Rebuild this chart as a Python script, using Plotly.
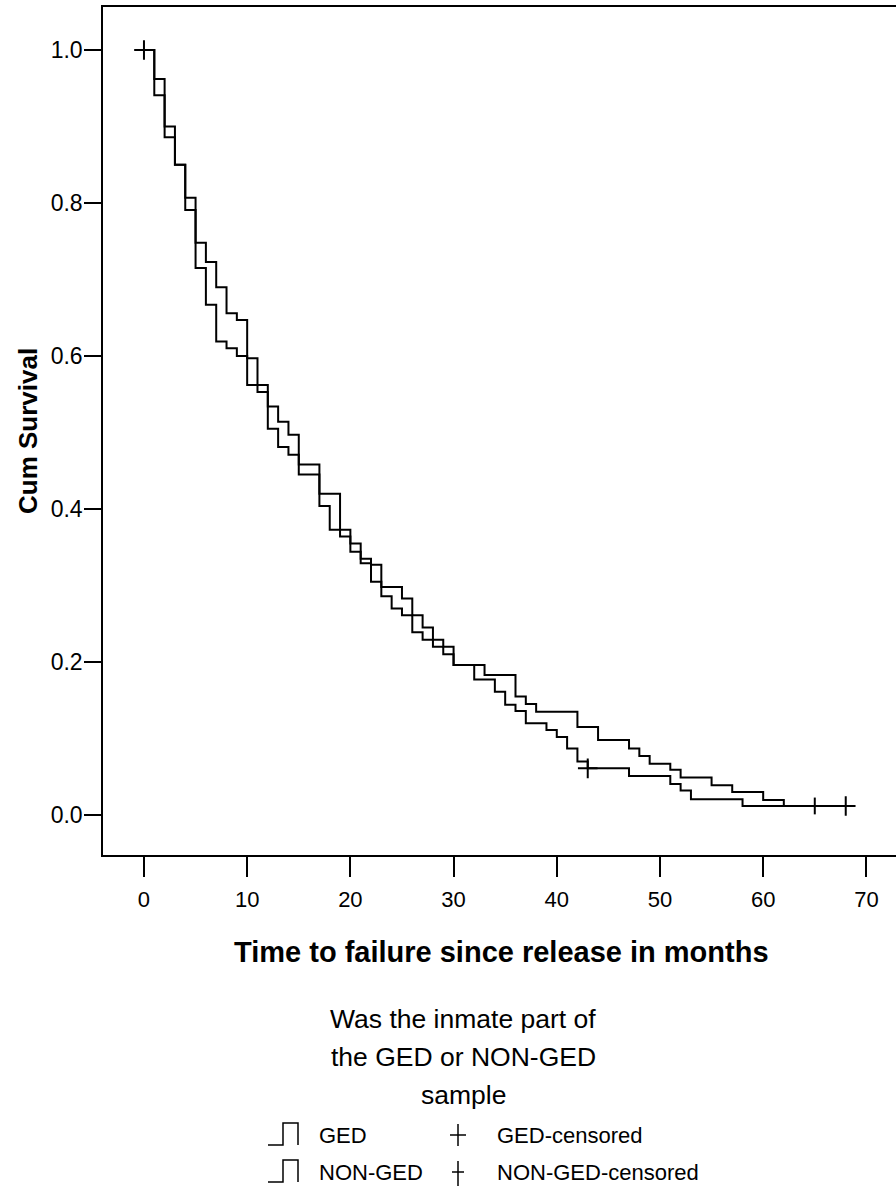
import plotly.graph_objects as go

# ---------------- data ----------------
ged_time = [0, 1, 2, 3, 4, 5, 6, 7, 8, 9, 10, 11, 12, 13, 14, 15, 17, 19, 20, 21,
            22, 23, 25, 26, 27, 28, 29, 30, 32, 34, 35, 36, 37, 39, 40, 41, 42, 43,
            47, 51, 52, 53, 58, 68]
ged_surv = [1.0, 0.962, 0.900, 0.850, 0.807, 0.748, 0.723, 0.690, 0.656, 0.647,
            0.597, 0.562, 0.534, 0.514, 0.497, 0.458, 0.420, 0.364, 0.355, 0.335,
            0.327, 0.298, 0.283, 0.261, 0.245, 0.229, 0.220, 0.196, 0.177, 0.161,
            0.144, 0.136, 0.120, 0.111, 0.102, 0.087, 0.070, 0.061, 0.051, 0.0405,
            0.032, 0.0205, 0.0118, 0.0118]
ged_cens_time = [0, 43, 68]
ged_cens_surv = [1.0, 0.061, 0.0118]

non_time = [0, 1, 2, 3, 4, 5, 6, 7, 8, 9, 10, 11, 12, 13, 14, 15, 17, 18, 20, 21,
            22, 23, 24, 25, 26, 27, 28, 29, 30, 33, 36, 37, 38, 42, 44, 47, 48, 49,
            51, 52, 55, 57, 60, 62, 65]
non_surv = [1.0, 0.941, 0.886, 0.850, 0.791, 0.715, 0.667, 0.619, 0.610, 0.600,
            0.562, 0.553, 0.505, 0.481, 0.471, 0.445, 0.404, 0.373, 0.344, 0.329,
            0.305, 0.286, 0.270, 0.261, 0.239, 0.229, 0.220, 0.210, 0.196, 0.183,
            0.155, 0.145, 0.135, 0.115, 0.098, 0.087, 0.077, 0.067, 0.059, 0.049,
            0.039, 0.030, 0.0196, 0.0118, 0.0118]
non_cens_time = [65]
non_cens_surv = [0.0118]

x_ticks = [0, 10, 20, 30, 40, 50, 60, 70]
y_ticks = [0.0, 0.2, 0.4, 0.6, 0.8, 1.0]
y_tick_labels = ["0.0", "0.2", "0.4", "0.6", "0.8", "1.0"]

x_title = "Time to failure since release in months"
y_title = "Cum Survival"
legend_title = ["Was the inmate part of", "the GED or NON-GED", "sample"]
legend_items = ["GED", "NON-GED"]
legend_cens = ["GED-censored", "NON-GED-censored"]

# ---------------- figure ----------------
W, H = 896, 1192
L, R, T, B = 103, 0, 7, 337
PW, PH = W - L - R, H - T - B

def P(px, py):
    return (px - L) / PW, (H - B - py) / PH

REG = "Liberation Sans, Arial, Helvetica, sans-serif"
NARROW = "Liberation Sans Narrow, Arial Narrow, Liberation Sans, Arial, sans-serif"

fig = go.Figure()
fig.add_trace(go.Scatter(x=ged_time, y=ged_surv, mode="lines", line_shape="hv",
                         line=dict(color="black", width=2), name="GED",
                         showlegend=False))
fig.add_trace(go.Scatter(x=non_time, y=non_surv, mode="lines", line_shape="hv",
                         line=dict(color="black", width=2), name="NON-GED",
                         showlegend=False))
fig.add_trace(go.Scatter(x=ged_cens_time, y=ged_cens_surv, mode="markers",
                         marker=dict(symbol="cross-thin", size=14,
                                     line=dict(color="black", width=2)),
                         name="GED-censored", showlegend=False))
fig.add_trace(go.Scatter(x=non_cens_time, y=non_cens_surv, mode="markers",
                         marker=dict(symbol="line-ns", size=12,
                                     line=dict(color="black", width=2)),
                         name="NON-GED-censored", showlegend=False))

fig.update_xaxes(range=[-3.97, 72.87], tickvals=x_ticks, ticks="outside",
                 ticklen=20, tickwidth=2, tickcolor="black", showline=True,
                 linecolor="black", linewidth=1.5, mirror=True, showgrid=False,
                 zeroline=False, ticklabelstandoff=4,
                 tickfont=dict(family=NARROW, size=22, color="black"))
fig.update_yaxes(range=[-0.0523, 1.0562], tickvals=y_ticks, ticktext=y_tick_labels,
                 ticks="outside", ticklen=17, tickwidth=1.5, tickcolor="black",
                 showline=True, linecolor="black", linewidth=1.5, showgrid=False,
                 zeroline=False, ticklabelstandoff=-3,
                 tickfont=dict(family=REG, size=23, color="black"))

ann = []
x0, y0 = P(501, 952)
ann.append(dict(text="<b>%s</b>" % x_title, x=x0, y=y0, xref="paper", yref="paper",
                xanchor="center", yanchor="middle", showarrow=False,
                font=dict(family=REG, size=29, color="black")))
x0, y0 = P(28, 431)
ann.append(dict(text="<b>%s</b>" % y_title, x=x0, y=y0, xref="paper", yref="paper",
                xanchor="center", yanchor="middle", showarrow=False, textangle=-90,
                font=dict(family=REG, size=26, color="black")))
for i, line in enumerate(legend_title):
    x0, y0 = P(463, 1019 + 38 * i)
    ann.append(dict(text=line, x=x0, y=y0, xref="paper", yref="paper",
                    xanchor="center", yanchor="middle", showarrow=False,
                    font=dict(family=REG, size=26.5, color="black")))

shapes = []
row_y = [1135, 1172]
for i in range(2):
    yc = row_y[i]
    x0, y0 = P(317, yc)
    ann.append(dict(text=legend_items[i], x=x0, y=y0, xref="paper", yref="paper",
                    xanchor="left", yanchor="middle", showarrow=False,
                    font=dict(family=NARROW, size=22, color="black")))
    x0, y0 = P(495, yc)
    ann.append(dict(text=legend_cens[i], x=x0, y=y0, xref="paper", yref="paper",
                    xanchor="left", yanchor="middle", showarrow=False,
                    font=dict(family=NARROW, size=22, color="black")))
    # step glyph  _|~|
    pts = [P(268, yc + 10), P(283, yc + 10), P(283, yc - 12), P(298, yc - 12), P(298, yc + 10)]
    path = "M %f,%f " % pts[0] + " ".join("L %f,%f" % p for p in pts[1:])
    shapes.append(dict(type="path", path=path, xref="paper", yref="paper",
                       line=dict(color="black", width=1.5)))
    # censor glyph +
    hx = 8 if i == 0 else 6
    a, b = P(458 - hx, yc), P(458 + hx, yc)
    shapes.append(dict(type="line", x0=a[0], y0=a[1], x1=b[0], y1=b[1],
                       xref="paper", yref="paper", line=dict(color="black", width=1.5)))
    a, b = P(458, yc - 11), P(458, yc + 11 + 3 * i)
    shapes.append(dict(type="line", x0=a[0], y0=a[1], x1=b[0], y1=b[1],
                       xref="paper", yref="paper", line=dict(color="black", width=1.5)))

fig.update_layout(width=W, height=H, margin=dict(l=L, r=R, t=T, b=B),
                  paper_bgcolor="white", plot_bgcolor="white",
                  annotations=ann, shapes=shapes, showlegend=False)

fig.write_html("out.html", config={"displayModeBar": False},
               post_script="document.body.style.margin='0';"
                           "document.body.style.overflow='hidden';")
